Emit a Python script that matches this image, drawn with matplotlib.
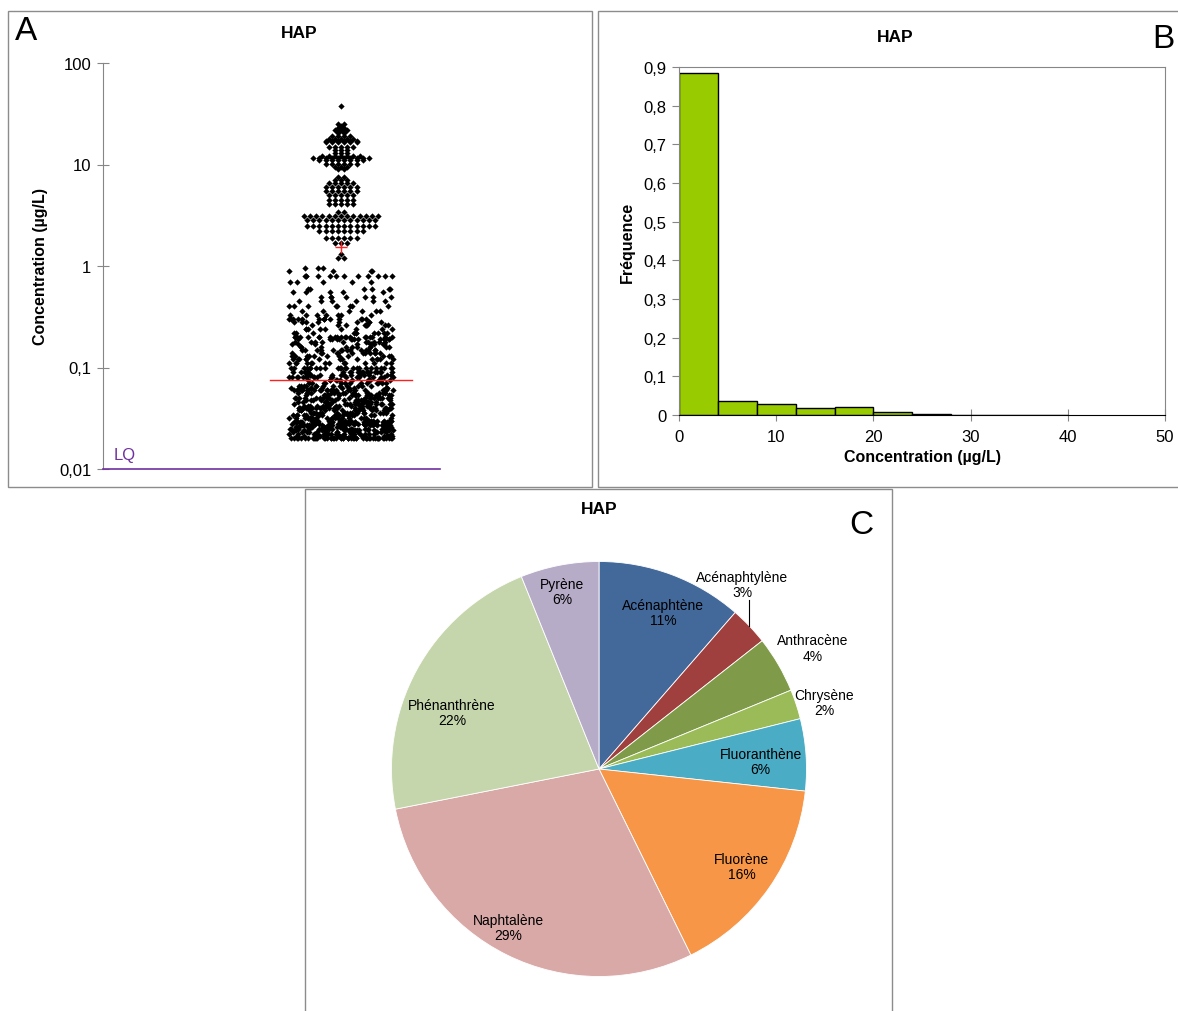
import numpy as np
import matplotlib
matplotlib.use("Agg")
import matplotlib.pyplot as plt
from matplotlib.patches import Rectangle
from matplotlib.ticker import NullLocator

plt.rcParams['font.family'] = ['Liberation Sans', 'DejaVu Sans']

# ---------------- Panel A : individual HAP concentrations (µg/L) ----------------
# values above 1 µg/L (concentration level, number of samples at that level)
high_conc = [38, 25, 24, 23, 22, 21, 20.5, 19, 18, 17, 16.5, 15, 14, 13, 12.2,
             11.5, 11, 10.2, 9.5, 9, 7.5, 7, 6.5, 6, 5.5, 5, 4.5, 4.1,
             3.4, 3.1, 2.85, 2.5, 2.2, 1.9, 1.7, 1.3, 1.2]
high_count = [1, 2, 1, 2, 3, 2, 2, 4, 5, 6, 6, 5, 3, 3, 7,
              10, 8, 6, 3, 2, 2, 3, 5, 6, 6, 5, 5, 5,
              2, 13, 12, 12, 8, 6, 3, 1, 2]

# values below 1 µg/L
low_conc = [0.020, 0.021, 0.022, 0.023, 0.024, 0.025, 0.026, 0.027, 0.028, 0.029,
            0.030, 0.032, 0.034, 0.036, 0.038, 0.040, 0.042, 0.044, 0.046, 0.048,
            0.050, 0.053, 0.056, 0.060, 0.063, 0.066, 0.070,
            0.075, 0.080, 0.085, 0.090, 0.100,
            0.11, 0.12, 0.13, 0.14, 0.15, 0.16, 0.17, 0.18, 0.19,
            0.20, 0.22, 0.24, 0.26, 0.28,
            0.30, 0.33, 0.36, 0.40, 0.45, 0.50, 0.55, 0.60, 0.70, 0.80, 0.90, 0.95]
low_count = [50, 18, 18, 18, 18, 20, 18, 18, 20, 22,
             25, 20, 20, 18, 18, 25, 14, 14, 13, 13,
             20, 16, 16, 22, 13, 13, 13,
             14, 18, 14, 20, 24,
             14, 14, 12, 12, 14, 10, 10, 10, 14,
             20, 10, 9, 9, 9,
             14, 7, 6, 8, 6, 7, 5, 6, 5, 12, 4, 3]

mean_conc = 1.55      # arithmetic mean
median_conc = 0.075   # median
lq_conc = 0.01        # limit of quantification

# ---------------- Panel B : frequency histogram ----------------
bin_edges = [0, 4, 8, 12, 16, 20, 24, 28, 32, 36, 40]
bin_freq = [0.885, 0.035, 0.028, 0.018, 0.020, 0.009, 0.003, 0.0, 0.0, 0.001]

# ---------------- Panel C : share of each compound ----------------
compounds = ['Acénaphtène', 'Acénaphtylène', 'Anthracène', 'Chrysène',
             'Fluoranthène', 'Fluorène', 'Naphtalène', 'Phénanthrène', 'Pyrène']
shares = [11.4, 3.0, 4.4, 2.3, 5.6, 16.0, 29.2, 22.0, 6.1]
pie_colors = ['#43699B', '#A0403E', '#7F9B49', '#9BBB59', '#4BACC6',
              '#F79646', '#D9A9A8', '#C5D6AC', '#B7ACC8']

# ------------------------------------------------------------------
W, H = 1178, 1012
fig = plt.figure(figsize=(W / 100, H / 100), dpi=100)
fig.patch.set_facecolor('white')

def fx(px):
    return px / W

def fy(py):
    return 1 - py / H

frame_col = '#8C8C8C'
for (x0, y0, x1, y1) in [(8, 12, 592, 488), (598, 12, 1182, 488), (305, 490, 892, 1016)]:
    fig.add_artist(Rectangle((fx(x0), fy(y1)), fx(x1) - fx(x0), fy(y0) - fy(y1),
                             transform=fig.transFigure, fill=False,
                             edgecolor=frame_col, linewidth=1.0))

grey = '#868686'

# ---------------- Panel A ----------------
axA = fig.add_axes([fx(103), fy(470), fx(579) - fx(103), fy(64) - fy(470)])
axA.set_yscale('log')
axA.set_ylim(0.01, 100)
axA.set_xlim(0, 1)
axA.set_yticks([0.01, 0.1, 1, 10, 100])
axA.set_yticklabels(['0,01', '0,1', '1', '10', '100'])
axA.yaxis.set_minor_locator(NullLocator())
axA.set_xticks([])
for s in ['top', 'right', 'bottom']:
    axA.spines[s].set_visible(False)
axA.spines['left'].set_color(grey)
axA.tick_params(axis='y', direction='inout', length=9, color=grey, labelsize=12, pad=4)
axA.set_ylabel('Concentration (µg/L)', fontsize=11.5, fontweight='bold', labelpad=8)

centre = 0.5
step = 6.2 / 476          # horizontal spacing of stacked points
xs, ys = [], []
for v, n in zip(high_conc, high_count):
    for i in range(n):
        xs.append(centre + (i - (n - 1) / 2) * step)
        ys.append(v)

band = 104.0 / 476        # width of the jittered cloud below 1 µg/L
def jitter(k):
    # deterministic scatter of point k across the cloud width, in [0, 1)
    return (np.sin(k * 12.9898 + 78.233) * 43758.5453) % 1.0

k = 0
for v, n in zip(low_conc, low_count):
    for i in range(n):
        k += 1
        xs.append(centre + (jitter(k) - 0.5) * band)
        ys.append(v)
axA.plot(xs, ys, linestyle='none', marker='D', ms=3.2, mew=0, color='black', zorder=3)

axA.plot([0.351, 0.649], [median_conc, median_conc], color='#FF2020', lw=1.0, zorder=4)
axA.plot([centre], [mean_conc], marker='+', ms=8, mew=1.0, color='#FF2020', zorder=4)
axA.plot([0, 0.708], [lq_conc, lq_conc], color='#7030A0', lw=1.2, clip_on=False, zorder=4)
axA.text(0.023, 0.0139, 'LQ', color='#7030A0', fontsize=12, va='center', ha='left')

fig.text(fx(299), fy(34), 'HAP', ha='center', va='center', fontsize=12.5, fontweight='bold')
fig.text(fx(26), fy(32), 'A', ha='center', va='center', fontsize=24)

# ---------------- Panel B ----------------
axB = fig.add_axes([fx(679), fy(416), fx(1165) - fx(679), fy(68) - fy(416)])
lefts = bin_edges[:-1]
widths = np.diff(bin_edges)
axB.bar(lefts, bin_freq, width=widths, align='edge', color='#99CC00',
        edgecolor='black', linewidth=1.0, zorder=2)
axB.set_xlim(0, 50)
axB.set_ylim(0, 0.9)
axB.set_xticks([0, 10, 20, 30, 40, 50])
axB.set_yticks([0, 0.1, 0.2, 0.3, 0.4, 0.5, 0.6, 0.7, 0.8, 0.9])
axB.set_yticklabels(['0', '0,1', '0,2', '0,3', '0,4', '0,5', '0,6', '0,7', '0,8', '0,9'])
for s in ['top', 'right', 'left']:
    axB.spines[s].set_color(grey)
axB.spines['bottom'].set_color('black')
axB.spines['bottom'].set_zorder(3)
axB.tick_params(axis='y', direction='out', length=5, color=grey, labelsize=12, pad=4)
axB.tick_params(axis='x', direction='inout', length=8, color=grey, labelsize=12, pad=6)
axB.set_xlabel('Concentration (µg/L)', fontsize=11.5, fontweight='bold', labelpad=4)
axB.set_ylabel('Fréquence', fontsize=11.5, fontweight='bold', labelpad=6)

fig.text(fx(895), fy(38), 'HAP', ha='center', va='center', fontsize=12.5, fontweight='bold')
fig.text(fx(1163), fy(40), 'B', ha='center', va='center', fontsize=24)

# ---------------- Panel C ----------------
R = 207.5
axC = fig.add_axes([fx(599 - R), fy(770 + R), 2 * R / W, 2 * R / H])
wedges, _ = axC.pie(shares, colors=pie_colors, startangle=90, counterclock=False,
                    wedgeprops=dict(edgecolor='white', linewidth=0.6))
axC.set_xlim(-1, 1)
axC.set_ylim(-1, 1)
axC.set_aspect('auto')
axC.axis('off')

# label placement: radius (fraction of pie radius) and angular shift (deg, clockwise)
label_r = [0.815, 1.125, 1.183, 1.132, 0.78, 0.833, 0.879, 0.759, 0.873]
label_shift = [1.7, -8.5, 0.7, 1.8, 1.2, -0.5, 3.4, -7.4, -0.8]
for w, name, val, r, d in zip(wedges, compounds, shares, label_r, label_shift):
    mid = np.deg2rad((w.theta1 + w.theta2) / 2 - d)
    x, y = r * np.cos(mid), r * np.sin(mid)
    axC.text(x, y, f'{name}\n{val:.0f}%', ha='center', va='center',
             fontsize=10, linespacing=1.1, clip_on=False)
    if name == 'Acénaphtylène':
        m = np.deg2rad((w.theta1 + w.theta2) / 2)
        rx, ry = np.cos(m), np.sin(m)
        axC.plot([rx, rx], [ry, y - 0.075], color='black', lw=0.8, clip_on=False)

fig.text(fx(599), fy(509), 'HAP', ha='center', va='center', fontsize=12.5, fontweight='bold')
fig.text(fx(861), fy(526), 'C', ha='center', va='center', fontsize=24)

fig.savefig('out.png', dpi=100, facecolor='white')
